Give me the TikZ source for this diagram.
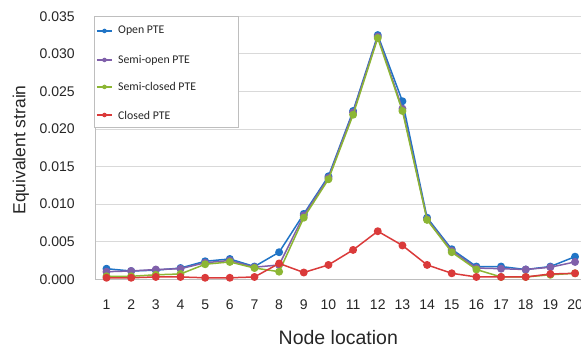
\documentclass[tikz,border=0pt]{standalone}
\usepackage{fontspec}
\setmainfont{Liberation Sans}
\newfontfamily\legendfont{Carlito}
\usepackage{tikz}
\usetikzlibrary{arrows.meta,positioning,calc}
\definecolor{OpenBlue}{RGB}{32,116,198}
\definecolor{SemiOpenPurple}{RGB}{128,96,170}
\definecolor{SemiClosedGreen}{RGB}{140,182,52}
\definecolor{ClosedRed}{RGB}{218,58,58}
\definecolor{GridGray}{RGB}{217,217,217}
\definecolor{AxisGray}{RGB}{190,190,190}
\definecolor{LabelGray}{RGB}{38,38,38}

\begin{document}
\begin{tikzpicture}[x=24.66pt, y=7513pt, font=\fontsize{14}{16}\selectfont, text=LabelGray,
    series/.style={line width=1.5pt, line join=round, mark=*, mark size=3.2pt, mark options={draw=none, fill=#1}, draw=#1}]
        \useasboundingbox (-3.319,-0.00941) rectangle (20.242,0.037175);
        % grid and axes
        \foreach \v in {0.005,0.01,0.015,0.02,0.025,0.03,0.035}
          \draw[GridGray, line width=0.9pt] (0.534,\v) -- (20.242,\v);
        \draw[AxisGray, line width=0.9pt] (0.534,0) -- (20.242,0);
        \draw[AxisGray, line width=0.9pt] (0.534,0) -- (0.534,0.035);
        \foreach \v/\t [count=\k] in {0/0.000,0.005/0.005,0.01/0.010,0.015/0.015,0.02/0.020,0.025/0.025,0.03/0.030,0.035/0.035}
          \node[anchor=east, inner sep=0] (ytick\k) at (-0.28,\v) {\t};
        \foreach \n in {1,...,20}
          \node[inner sep=0] (xtick\n) at (\n,-0.00342) {\n};
        \node[font=\fontsize{19.5}{22}\selectfont] (xtitle) at (10.4,-0.00781) {Node location};
        \node[font=\fontsize{17.5}{20}\selectfont, rotate=90] (ytitle) at (-2.47,0.01721) {Equivalent strain};
        % data
        \draw[series=OpenBlue] plot coordinates {(1,0.0014) (2,0.0011) (3,0.0012) (4,0.0015) (5,0.0024) (6,0.0027) (7,0.0017) (8,0.0036) (9,0.0087) (10,0.0137) (11,0.0224) (12,0.0325) (13,0.0237) (14,0.0082) (15,0.0040) (16,0.0017) (17,0.0017) (18,0.0013) (19,0.0017) (20,0.0030)};
        \draw[series=SemiOpenPurple] plot coordinates {(1,0.0010) (2,0.0011) (3,0.0013) (4,0.0014) (5,0.0022) (6,0.0025) (7,0.0016) (8,0.0019) (9,0.0085) (10,0.0135) (11,0.0222) (12,0.0323) (13,0.0227) (14,0.0080) (15,0.0038) (16,0.0015) (17,0.0014) (18,0.0013) (19,0.0016) (20,0.0023)};
        \draw[series=SemiClosedGreen] plot coordinates {(1,0.0004) (2,0.0004) (3,0.0006) (4,0.0007) (5,0.0020) (6,0.0023) (7,0.0015) (8,0.0010) (9,0.0082) (10,0.0133) (11,0.0219) (12,0.0321) (13,0.0224) (14,0.0079) (15,0.0036) (16,0.0013) (17,0.0003) (18,0.0003) (19,0.0006) (20,0.0008)};
        \draw[series=ClosedRed] plot coordinates {(1,0.0002) (2,0.0002) (3,0.0003) (4,0.0003) (5,0.0002) (6,0.0002) (7,0.0003) (8,0.0021) (9,0.0009) (10,0.0019) (11,0.0039) (12,0.0064) (13,0.0045) (14,0.0019) (15,0.0008) (16,0.0003) (17,0.0003) (18,0.0003) (19,0.0007) (20,0.0008)};
        % legend
        \draw[AxisGray, fill=white, line width=0.9pt] (0.493,0.02014) rectangle (6.333,0.035);
        \foreach \y/\c/\t [count=\k] in {0.03305/OpenBlue/Open PTE, 0.02919/SemiOpenPurple/Semi-open PTE, 0.0256/SemiClosedGreen/Semi-closed PTE, 0.02187/ClosedRed/Closed PTE} {
          \draw[\c, line width=1.4pt] (0.614,\y) -- (1.222,\y);
          \fill[\c] (0.918,\y) circle (2.3pt);
          \node[anchor=west, inner sep=0, font=\legendfont\fontsize{11.8}{13}\selectfont] (legend\k) at (1.466,\y) {\t};
        }
      \end{tikzpicture}
\end{document}
